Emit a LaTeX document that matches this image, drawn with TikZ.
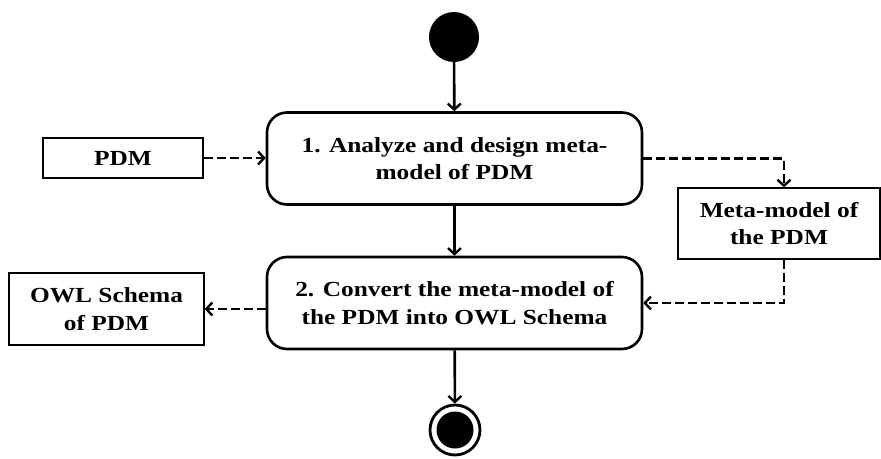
\documentclass[tikz,border=0pt]{standalone}
\usepackage{fontspec}
\setmainfont[FakeStretch=1.18]{Liberation Serif}
\usetikzlibrary{arrows.meta,calc}
\begin{document}
\begin{tikzpicture}[x=1pt,y=-1pt,
  txt/.style={font=\fontsize{21.5}{27.5}\selectfont\bfseries, align=center, inner sep=0pt},
  act/.style={txt, draw, line width=2.6pt, rounded corners=20pt, minimum width=375pt, minimum height=92pt},
  obj/.style={txt, draw, line width=1.3pt, rectangle},
  flow/.style={line width=2.6pt, -{Straight Barb[length=6pt,width=13pt,line width=2.4pt]}},
  dflow/.style={flow, dash pattern=on 9pt off 4pt},
]
\useasboundingbox (0,0) rectangle (881,458);
\node[circle, fill=black, minimum size=50pt, inner sep=0pt] (start) at (454,37) {};
\node[act] (a1) at (454.5,158.5) {1. Analyze and design meta-\\model of PDM};
\node[act] (a2) at (454.5,303) {2. Convert the meta-model of\\the PDM into OWL Schema};
\node[obj, minimum width=160pt, minimum height=40pt] (pdm) at (123,158) {PDM};
\node[obj, minimum width=195pt, minimum height=72pt] (owl) at (106.5,309) {OWL Schema\\of PDM};
\node[obj, minimum width=202pt, minimum height=71pt] (meta) at (779,223.5) {Meta-model of\\the PDM};
\node[circle, draw, line width=2.8pt, minimum size=50pt, inner sep=0pt,
  path picture={\fill (path picture bounding box.center) circle (18.5pt);}] (end) at (455,430) {};
\coordinate (mtop) at ($(meta.north)+(5,0)$);
\coordinate (mbot) at ($(meta.south)+(5,0)$);
\draw[flow] (start) -- (a1);
\draw[flow] (a1) -- (a2);
\draw[flow] (a2) -- (end);
\draw[dflow] (pdm.east) -- (pdm.east -| a1.west);
\draw[dflow] (a1.east) -| (mtop);
\draw[dflow] (mbot) |- (a2.east);
\draw[dflow] (owl.east -| a2.west) -- (owl.east);
\end{tikzpicture}
\end{document}
